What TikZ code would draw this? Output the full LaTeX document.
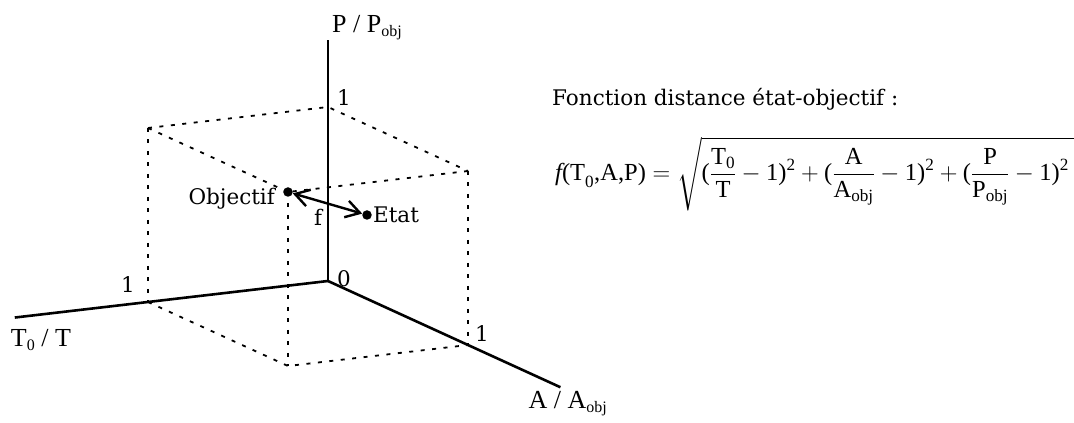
\RequirePackage{fix-cm}
\documentclass[tikz,border=0pt]{standalone}
\usepackage{amsmath,amssymb}
\usepackage{fontspec}
\setmainfont{Liberation Serif}
\newfontfamily\lblfont{DejaVu Serif}
\usepackage{tikz}
\usetikzlibrary{arrows.meta, positioning, calc}

\newcommand{\lowsub}[1]{\raisebox{-0.35ex}{\fontsize{16}{16}\selectfont #1}}
\newcommand{\tr}[1]{\text{#1}}

\tikzset{
  axis/.style={line width=2.6pt},
  boxline/.style={line width=1.8pt, dash pattern=on 4pt off 7.5pt},
  dot/.style={circle, fill=black, inner sep=0pt, minimum size=9.5pt},
  lbl/.style={font=\lblfont\fontsize{21.5}{24}\selectfont, inner sep=0pt},
  axlbl/.style={font=\fontsize{26}{30}\selectfont, inner sep=0pt, anchor=base west},
  farrow/.style={line width=2.4pt, {Straight Barb[length=14pt,width=17pt]}-{Straight Barb[length=14pt,width=17pt]}}
}

\begin{document}
\begin{tikzpicture}[x={(-180pt,-21pt)}, y={(140pt,-64pt)}, z={(0pt,174pt)}]
\useasboundingbox (-328pt,-142pt) rectangle (746pt,281pt);

% corners of the unit cube
\coordinate (O)  at (0,0,0);
\coordinate (T1) at (1,0,0);
\coordinate (A1) at (0,1,0);
\coordinate (P1) at (0,0,1);
\coordinate (TP) at (1,0,1);
\coordinate (AP) at (0,1,1);
\coordinate (TA) at (1,1,0);
\coordinate (Tend) at (1.74,0,0);
\coordinate (Aend) at (0,1.66,0);
\coordinate (Pend) at (0,0,1.385);

% axes
\draw[axis] (O) -- (Tend);
\draw[axis] (O) -- (Aend);
\draw[axis] (O) -- (Pend);

\node[axlbl, xshift=4pt, yshift=8pt] (plbl) at (Pend) {P / P\lowsub{obj}};
\node[axlbl, xshift=-4pt, yshift=-29pt] (tlbl) at (Tend) {T\lowsub{0} / T};
\node[axlbl, xshift=-32pt, yshift=-21pt] (albl) at (Aend) {A / A\lowsub{obj}};

% dashed box
\node[dot] (obj) at (1,1,1) {};
\draw[boxline] (TP) -- (P1) -- (AP);
\draw[boxline] (AP) -- (obj.center);
\draw[boxline] (TP) -- (obj.center);
\draw[boxline] (TP) -- (T1);
\draw[boxline] (AP) -- (A1);
\draw[boxline] (obj.center) -- (TA);
\draw[boxline] (T1) -- (TA) -- (A1);

\node[lbl, xshift=16pt, yshift=9pt] (one-p) at (P1) {1};
\node[lbl, xshift=-20pt, yshift=17pt] (one-t) at (T1) {1};
\node[lbl, xshift=14pt, yshift=11pt] (one-a) at (A1) {1};
\node[lbl, xshift=16pt, yshift=2pt] (zero) at (O) {0};

% objectif / etat
\node[dot, xshift=79pt, yshift=-23pt] (etat) at (obj.center) {};
\draw[farrow] (obj) -- (etat);
\node[lbl, anchor=base east, xshift=-13pt, yshift=-13pt] (objlbl) at (obj.center) {Objectif};
\node[lbl, anchor=west, xshift=1pt] (etatlbl) at (etat.east) {Etat};
\node[lbl, xshift=30pt, yshift=-25pt] (flbl) at (obj.center) {f};

% distance function
\node[lbl, anchor=base west] (titre) at (224pt,175pt) {Fonction distance état-objectif :};
\node[anchor=base west, inner sep=0pt, font=\fontsize{24.5}{29}\selectfont] (formule) at (227pt,100pt)
  {$\displaystyle \textit{f}\tr{(T}_{\tr{0}}\tr{,A,P)} = \sqrt{\tr{(}\frac{\tr{T}_{\tr{0}}}{\tr{T}}-\tr{1)}^{\tr{2}}+\tr{(}\frac{\tr{A}}{\tr{A}_{\tr{obj}}}-\tr{1)}^{\tr{2}}+\tr{(}\frac{\tr{P}}{\tr{P}_{\tr{obj}}}-\tr{1)}^{\tr{2}}\hspace{6pt}}$};
\end{tikzpicture}
\end{document}
